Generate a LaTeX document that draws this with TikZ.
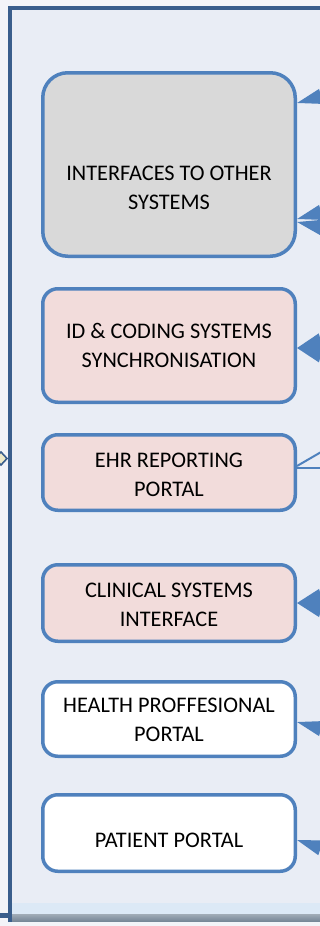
\documentclass[tikz,border=0pt]{standalone}
\usepackage{fontspec}
\setmainfont{Carlito}
\usetikzlibrary{arrows.meta}
\definecolor{framecol}{RGB}{58,94,140}
\definecolor{panelcol}{RGB}{233,237,245}
\definecolor{pagecol}{RGB}{243,244,248}
\definecolor{edgecol}{RGB}{79,129,189}
\definecolor{grayfill}{RGB}{217,217,217}
\definecolor{pinkfill}{RGB}{242,220,219}
\definecolor{tipfill}{RGB}{238,233,200}
\definecolor{bandlight}{RGB}{220,233,246}
\definecolor{banddark}{RGB}{120,136,152}
\tikzset{
  module/.style={draw=edgecol, line width=3.5pt, rounded corners=15pt,
    minimum width=252.5pt, inner sep=0pt},
  caption/.style={align=center, font=\fontsize{22.3}{29}\selectfont},
  flow/.style={draw=edgecol, line width=2pt, -{Triangle[length=25pt, width=15pt]}},
  link/.style={draw=edgecol, line width=2pt},
}

\begin{document}
\begin{tikzpicture}[x=1pt, y=-1pt]
  % page
  \useasboundingbox (0,0) rectangle (320,926);
  \clip (0,0) rectangle (320,926);
  \fill[pagecol] (0,0) rectangle (320,926);
  % panel
  \fill[panelcol] (10,8) rectangle (330,918);
  \fill[bandlight] (12,903) rectangle (330,914);
  \shade[top color=banddark!70, bottom color=banddark] (12,914) rectangle (330,921);
  \draw[framecol, line width=4pt] (10,922) -- (10,8) -- (330,8);
  \fill[framecol] (0,913) rectangle (8,918);
  \draw[framecol, fill=tipfill, line width=1.6pt] (-5,458.5) -- (1,452) -- (7,458.5) -- (1,465) -- cycle;
  % modules
  \node[module, fill=grayfill, rounded corners=25pt, minimum height=183.5pt] (ifaces) at (169,164.5) {};
  \node[module, fill=pinkfill, minimum height=113.5pt] (idsync) at (169,345.5) {};
  \node[module, fill=pinkfill, minimum height=75.5pt] (ehr) at (169,472.5) {};
  \node[module, fill=pinkfill, minimum height=76.5pt] (clinical) at (169,603) {};
  \node[module, fill=white, minimum height=74.5pt] (hpportal) at (169,719) {};
  \node[module, fill=white, minimum height=76.5pt] (patportal) at (169,833) {};
  % captions
  \node[caption] (ifacestxt) at ([yshift=-23pt]ifaces.center) {INTERFACES TO OTHER\\SYSTEMS};
  \node[caption] (idsynctxt) at ([yshift=0pt]idsync.center) {ID \& CODING SYSTEMS\\SYNCHRONISATION};
  \node[caption] (ehrtxt) at ([yshift=-2pt]ehr.center) {EHR REPORTING\\PORTAL};
  \node[caption] (clinicaltxt) at ([yshift=-2pt]clinical.center) {CLINICAL SYSTEMS\\INTERFACE};
  \node[caption] (hpportaltxt) at ([yshift=-1pt]hpportal.center) {HEALTH PROFFESIONAL\\PORTAL};
  \node[caption] (patportaltxt) at ([yshift=-7pt]patportal.center) {PATIENT PORTAL};
  % incoming ends
  \coordinate (inA) at (374,82);
  \coordinate (inB) at (374,198);
  \coordinate (inC) at (375,239);
  \coordinate (inD) at (374,325);
  \coordinate (inE) at (374,370);
  \coordinate (outF) at (366,426);
  \coordinate (outG) at (377,468);
  \coordinate (inH) at (374,582);
  \coordinate (inI) at (374,624);
  \coordinate (inJ) at (374,743);
  \coordinate (inK) at (373,865);
  % connectors
  \draw[flow] (inA) -- ([yshift=61.5pt]ifaces.east);
  \draw[flow] (inB) -- ([yshift=-54.5pt]ifaces.east);
  \draw[flow] (inC) -- ([yshift=-57.5pt]ifaces.east);
  \draw[flow] (inD) -- ([yshift=-2.5pt]idsync.east);
  \draw[flow] (inE) -- ([yshift=-2.5pt]idsync.east);
  \draw[link] ([yshift=6.5pt]ehr.east) -- (outF);
  \draw[link] ([yshift=4.5pt]ehr.east) -- (outG);
  \draw[flow] (inH) -- (clinical.east);
  \draw[flow] (inI) -- (clinical.east);
  \draw[flow] (inJ) -- ([yshift=-3pt]hpportal.east);
  \draw[flow] (inK) -- ([yshift=-7pt]patportal.east);
\end{tikzpicture}
\end{document}
